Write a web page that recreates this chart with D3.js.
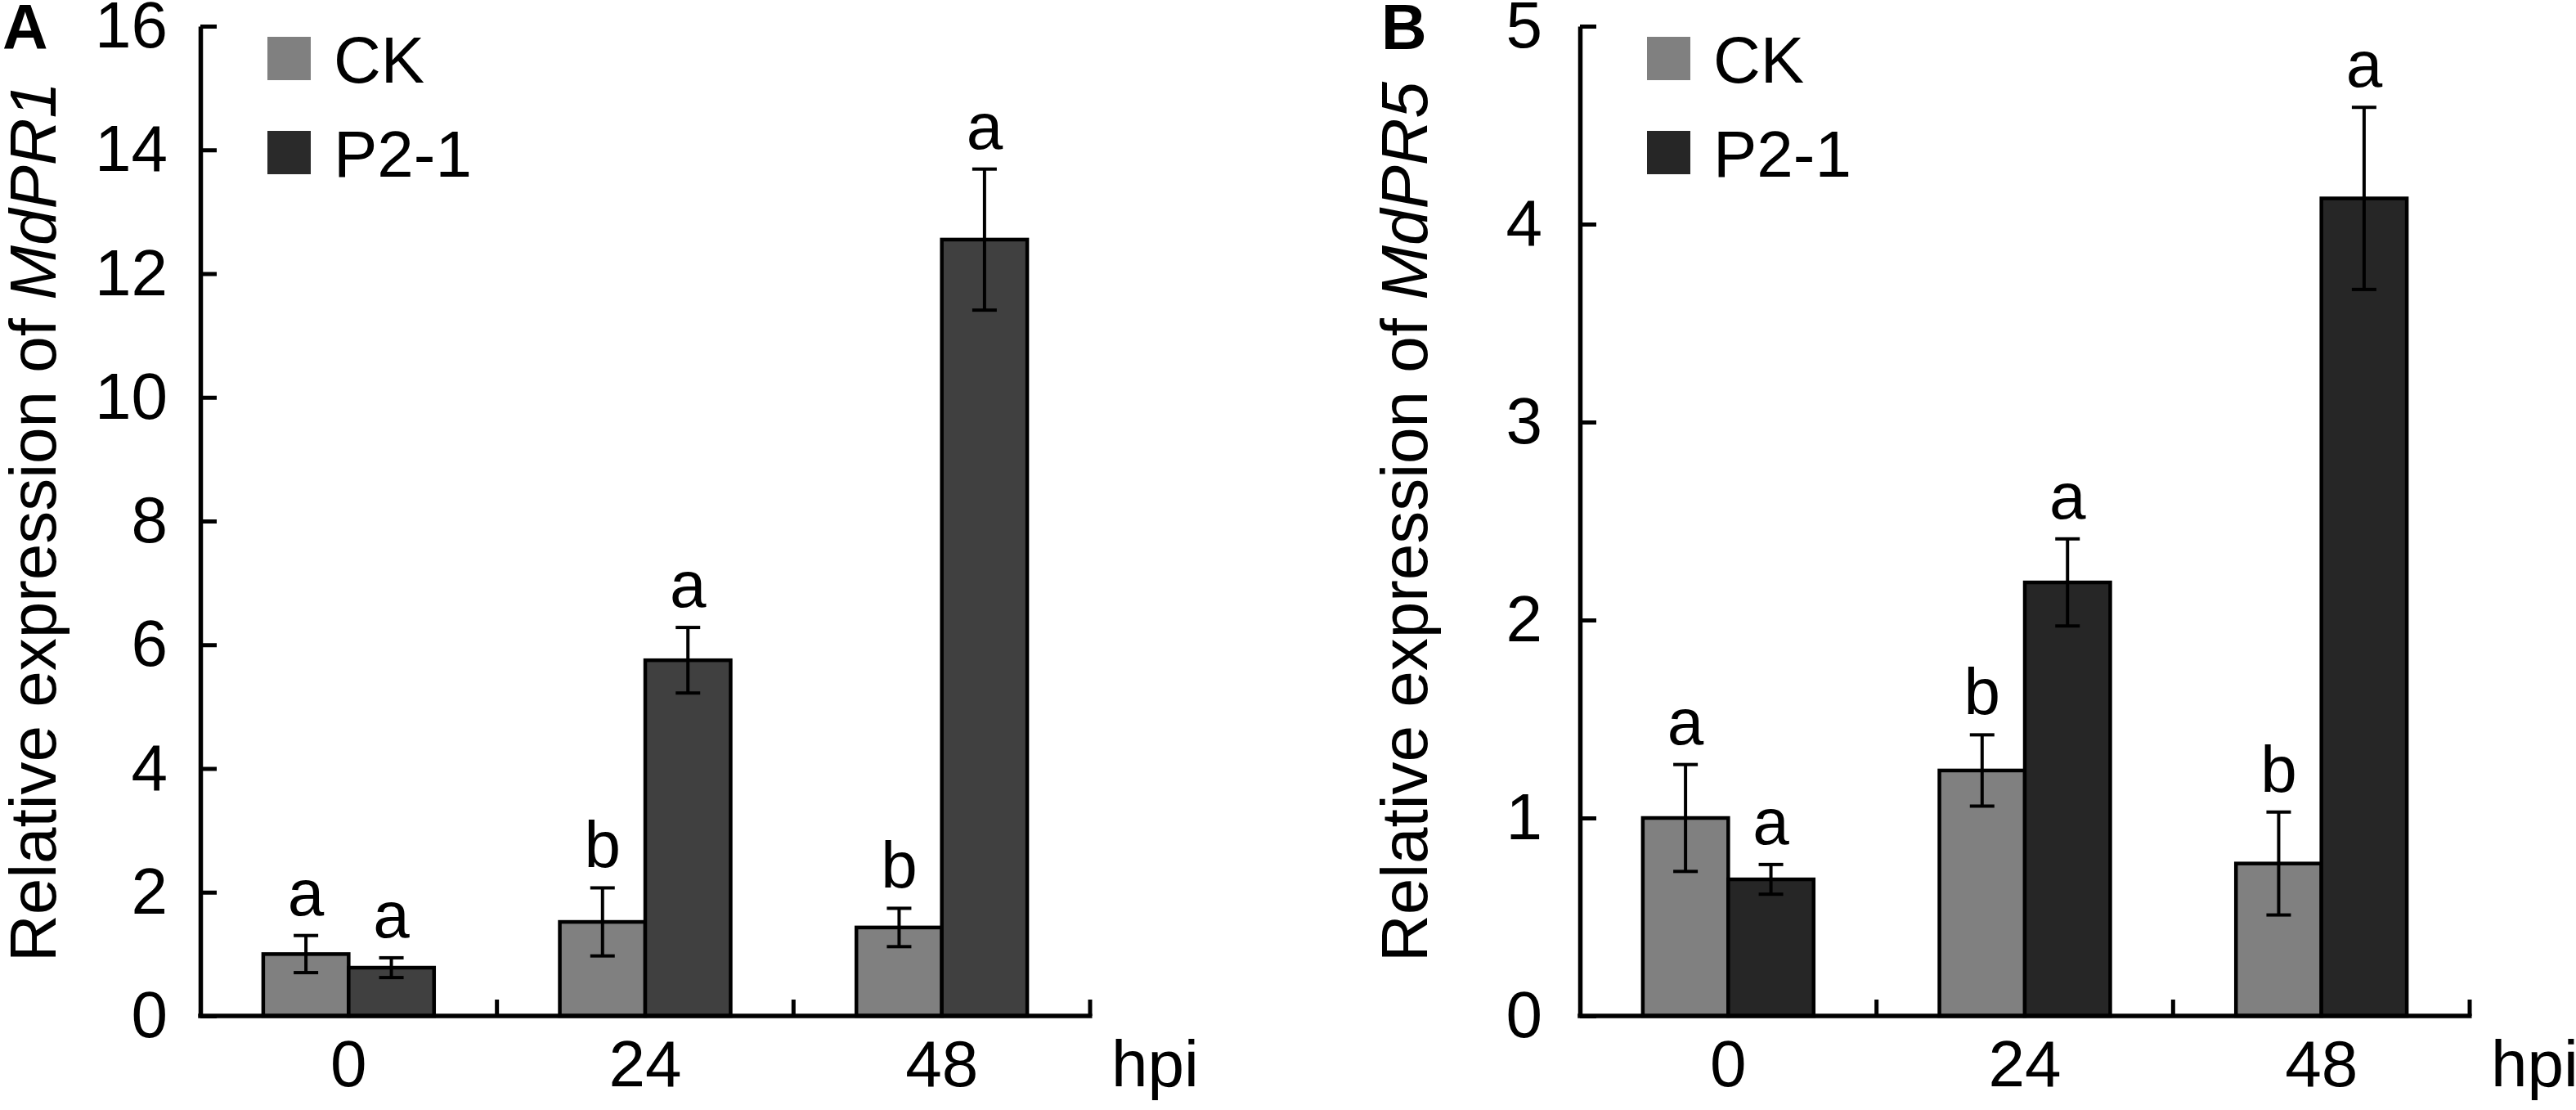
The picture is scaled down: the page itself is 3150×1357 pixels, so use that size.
<!DOCTYPE html>
<html>
<head>
<meta charset="utf-8">
<script src="https://cdn.jsdelivr.net/npm/d3@7"></script>
<style>
  body { margin: 0; background: #fff; }
  svg text { font-family: "Liberation Sans", Arial, sans-serif; fill: #000; }
</style>
</head>
<body>
<div id="main"></div>
<script>
const width = 3150;
const height = 1357;

// data
const categories = ["0", "24", "48"];
const seriesNames = ["CK", "P2-1"];

const pr1CK = [1.0, 1.52, 1.43];
const pr1CKErr = [0.3, 0.55, 0.31];
const pr1P21 = [0.78, 5.75, 12.55];
const pr1P21Err = [0.16, 0.53, 1.14];
const pr1Letters = [["a", "a"], ["b", "a"], ["b", "a"]];
const pr1Ticks = [0, 2, 4, 6, 8, 10, 12, 14, 16];

const pr5CK = [1.0, 1.24, 0.77];
const pr5CKErr = [0.27, 0.18, 0.26];
const pr5P21 = [0.69, 2.19, 4.13];
const pr5P21Err = [0.075, 0.22, 0.46];
const pr5Letters = [["a", "a"], ["b", "a"], ["b", "a"]];
const pr5Ticks = [0, 1, 2, 3, 4, 5];

const svg = d3.select("#main").append("svg").attr("width", width).attr("height", height);

const plotTop = 32;
const zeroY = 1242;
const plotW = 1088;
const fontSize = "80px";

const drawPanel = (opts) => {
  const g = svg.append("g").attr("transform", `translate(${opts.left},0)`);

  const y = d3.scaleLinear().domain([0, opts.yMax]).range([zeroY, plotTop]);
  const x = d3.scaleBand().domain(categories).range([0, plotW]).paddingInner(0.424).paddingOuter(0.212);
  const xs = d3.scaleBand().domain(seriesNames).range([0, x.bandwidth()]);
  const color = d3.scaleOrdinal().domain(seriesNames).range(["#808080", opts.dark]);

  const rows = [];
  categories.forEach((c, i) => {
    rows.push({ cat: c, s: "CK", v: opts.ck[i], e: opts.ckErr[i], l: opts.letters[i][0] });
    rows.push({ cat: c, s: "P2-1", v: opts.p21[i], e: opts.p21Err[i], l: opts.letters[i][1] });
  });

  // bars
  g.selectAll("rect.bar")
    .data(rows)
    .enter()
    .append("rect")
    .attr("class", "bar")
    .attr("x", (d) => x(d.cat) + xs(d.s))
    .attr("y", (d) => y(d.v))
    .attr("width", xs.bandwidth())
    .attr("height", (d) => zeroY - y(d.v))
    .attr("fill", (d) => color(d.s))
    .attr("stroke", "#000")
    .attr("stroke-width", 4.5);

  // error bars
  const cx = (d) => x(d.cat) + xs(d.s) + xs.bandwidth() / 2;
  const err = g.selectAll("g.err").data(rows).enter().append("g").attr("class", "err")
    .attr("stroke", "#000").attr("stroke-width", 4);
  err.append("line").attr("x1", cx).attr("x2", cx)
    .attr("y1", (d) => y(d.v + d.e)).attr("y2", (d) => y(d.v - d.e));
  err.append("line").attr("x1", (d) => cx(d) - 15).attr("x2", (d) => cx(d) + 15)
    .attr("y1", (d) => y(d.v + d.e)).attr("y2", (d) => y(d.v + d.e));
  err.append("line").attr("x1", (d) => cx(d) - 15).attr("x2", (d) => cx(d) + 15)
    .attr("y1", (d) => y(d.v - d.e)).attr("y2", (d) => y(d.v - d.e));

  // significance letters
  g.selectAll("text.sig")
    .data(rows)
    .enter()
    .append("text")
    .attr("class", "sig")
    .attr("x", cx)
    .attr("y", (d) => y(d.v + d.e) - 25)
    .attr("text-anchor", "middle")
    .style("font-size", fontSize)
    .text((d) => d.l);

  // y axis
  const yAxis = g.append("g")
    .call(d3.axisLeft(y).tickValues(opts.ticks).tickFormat(d3.format("d")).tickSizeInner(-20).tickSizeOuter(0).tickPadding(opts.tickPad));
  yAxis.select(".domain").attr("stroke-width", 5.5);
  yAxis.selectAll(".tick line").attr("stroke-width", 5);
  yAxis.selectAll(".tick text").style("font-size", fontSize).attr("fill", "#000");

  // x axis
  g.append("line")
    .attr("x1", -2.75).attr("x2", plotW + 2.5)
    .attr("y1", zeroY).attr("y2", zeroY)
    .attr("stroke", "#000").attr("stroke-width", 5.5);
  const step = x.step();
  g.selectAll("line.xtick")
    .data(categories)
    .enter()
    .append("line")
    .attr("class", "xtick")
    .attr("x1", (d) => x(d) + x.bandwidth() / 2 + step / 2)
    .attr("x2", (d) => x(d) + x.bandwidth() / 2 + step / 2)
    .attr("y1", zeroY).attr("y2", zeroY - 20)
    .attr("stroke", "#000").attr("stroke-width", 5);
  g.selectAll("text.xlab")
    .data(categories)
    .enter()
    .append("text")
    .attr("class", "xlab")
    .attr("x", (d) => x(d) + x.bandwidth() / 2)
    .attr("y", 1328)
    .attr("text-anchor", "middle")
    .style("font-size", fontSize)
    .text((d) => d);
  g.append("text")
    .attr("x", plotW + 26)
    .attr("y", 1328)
    .style("font-size", fontSize)
    .text("hpi");

  // y label
  const yl = g.append("text")
    .attr("transform", `translate(${opts.labelX},${638}) rotate(-90)`)
    .attr("text-anchor", "middle")
    .style("font-size", fontSize);
  yl.append("tspan").text("Relative expression of ");
  yl.append("tspan").style("font-style", "italic").text(opts.gene);

  // panel letter
  g.append("text")
    .attr("x", opts.letterX)
    .attr("y", 60)
    .style("font-size", "77px")
    .style("font-weight", "bold")
    .text(opts.panel);

  // legend
  const legend = g.append("g").attr("class", "legend");
  seriesNames.forEach((s, i) => {
    legend.append("rect")
      .attr("x", 82).attr("y", 45 + i * 115)
      .attr("width", 53).attr("height", 53)
      .attr("fill", i === 0 ? "#808080" : opts.legendDark);
    legend.append("text")
      .attr("x", 163).attr("y", 101 + i * 115)
      .style("font-size", fontSize)
      .text(s);
  });
};

drawPanel({
  left: 245, yMax: 16, ticks: pr1Ticks, ck: pr1CK, ckErr: pr1CKErr, p21: pr1P21, p21Err: pr1P21Err,
  letters: pr1Letters, dark: "#404040", legendDark: "#2a2a2a", gene: "MdPR1", panel: "A",
  labelX: -177, letterX: -242, tickPad: 40
});
drawPanel({
  left: 1932, yMax: 5, ticks: pr5Ticks, ck: pr5CK, ckErr: pr5CKErr, p21: pr5P21, p21Err: pr5P21Err,
  letters: pr5Letters, dark: "#262626", legendDark: "#262626", gene: "MdPR5", panel: "B",
  labelX: -187, letterX: -243, tickPad: 46
});
</script>
</body>
</html>
